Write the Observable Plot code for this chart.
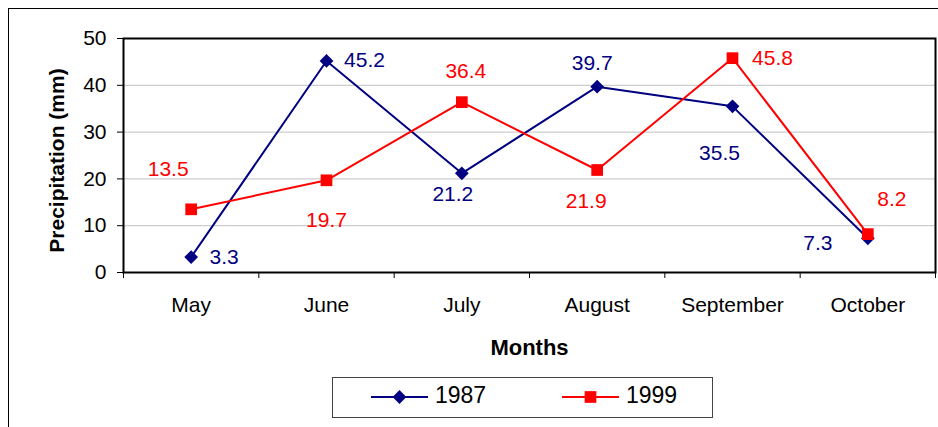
<!DOCTYPE html>
<html>
<head>
<meta charset="utf-8">
<script src="https://cdn.jsdelivr.net/npm/d3@7"></script>
<script src="https://cdn.jsdelivr.net/npm/@observablehq/plot@0.6"></script>
<style>
  html, body { margin: 0; padding: 0; background: #fff; }
  #wrap { position: relative; width: 938px; height: 427px; overflow: hidden; font-family: "Liberation Sans", Arial, sans-serif; }
  #outer { position: absolute; left: 8px; top: 8px; width: 1100px; height: 1100px; border: 1.5px solid #000; box-sizing: border-box; }
  #chart { position: absolute; left: 0; top: 0; }
  #legend { position: absolute; left: 332px; top: 377px; width: 381px; height: 41px; border: 1.5px solid #444; box-sizing: border-box; background: #fff; }
  #legend .item { position: absolute; top: 0; height: 38px; display: flex; align-items: center; }
  #legend span { font-size: 23px; color: #000; margin-left: 7px; position: relative; top: -2px; }
</style>
</head>
<body>
<div id="wrap">
  <div id="outer"></div>
  <div id="chart"></div>
  <div id="legend"></div>
</div>
<script>
const months = ["May", "June", "July", "August", "September", "October"];
const series = ["1987", "1999"];
const values1987 = [3.3, 45.2, 21.2, 39.7, 35.5, 7.3];
const values1999 = [13.5, 19.7, 36.4, 21.9, 45.8, 8.2];
const yTicks = [0, 10, 20, 30, 40, 50];

// styling
const colors = {"1987": "#000080", "1999": "#ff0000"};
const symbols = {"1987": "diamond2", "1999": "square"};
const radii = {"1987": 6.2, "1999": 6.6};
const labelOffsets = {
  "1987": [[33, 0], [38, -1], [-9, 21], [-5, -23], [-13, 47], [-50, 5]],
  "1999": [[-23, -40], [0, 40], [4, -31], [-11, 31], [40, 0], [24, -35]]
};

const rows = [];
months.forEach((m, i) => {
  rows.push({month: m, idx: i, series: "1987", value: values1987[i]});
  rows.push({month: m, idx: i, series: "1999", value: values1999[i]});
});
const xPos = d => d.idx + 0.5;

const marks = [
  Plot.gridY(yTicks.filter(t => t > 0 && t < 50), {stroke: "#c0c0c0", strokeOpacity: 1, strokeWidth: 1}),
  Plot.axisY({ticks: yTicks, tickSize: 6, tickPadding: 11, fontSize: 21, label: null, stroke: "#000"}),
  Plot.axisX({ticks: d3.range(0, months.length + 1), tickSize: 6, tickFormat: () => "", label: null, stroke: "#000"}),
  Plot.axisX({ticks: months.map((_, i) => i + 0.5), tickFormat: d => months[Math.floor(d)], tickSize: 0, tickPadding: 25, fontSize: 21, label: null}),
  Plot.frame({stroke: "#000", strokeWidth: 2}),
  Plot.text(["Precipitation (mm)"], {frameAnchor: "left", textAnchor: "middle", lineAnchor: "middle", dx: -66, dy: 5, rotate: -90, fontWeight: "bold", fontSize: 21}),
  Plot.text(["Months"], {frameAnchor: "bottom", textAnchor: "middle", lineAnchor: "middle", dy: 75, fontWeight: "bold", fontSize: 22})
];

for (const s of series) {
  const data = rows.filter(r => r.series === s);
  marks.push(Plot.line(data, {x: xPos, y: "value", stroke: colors[s], strokeWidth: 2}));
  marks.push(Plot.dot(data, {x: xPos, y: "value", symbol: () => symbols[s], r: radii[s], fill: colors[s], stroke: "none"}));
}
for (const s of series) {
  const data = rows.filter(r => r.series === s);
  data.forEach((d, i) => {
    const [dx, dy] = labelOffsets[s][i];
    marks.push(Plot.text([d], {x: xPos, y: "value", text: r => String(r.value), dx, dy, fill: colors[s], fontSize: 21}));
  });
}

const chart = Plot.plot({
  width: 938,
  height: 377,
  marginLeft: 123,
  marginRight: 3,
  marginTop: 38,
  marginBottom: 105,
  style: {fontFamily: "'Liberation Sans', Arial, sans-serif", background: "transparent", overflow: "visible"},
  x: {type: "linear", domain: [0, months.length], axis: null},
  y: {domain: [0, 50], axis: null},
  symbol: {type: "identity"},
  marks
});
document.getElementById("chart").appendChild(chart);

// legend
const legend = document.getElementById("legend");
const legendLayout = [{s: "1987", left: 38}, {s: "1999", left: 229}];
for (const {s, left} of legendLayout) {
  const item = document.createElement("div");
  item.className = "item";
  item.style.left = left + "px";
  const svg = d3.create("svg").attr("width", 57).attr("height", 20);
  svg.append("line").attr("x1", 0).attr("x2", 57).attr("y1", 10).attr("y2", 10).attr("stroke", colors[s]).attr("stroke-width", 2);
  const size = Math.PI * radii[s] * radii[s];
  const sym = s === "1987" ? d3.symbolDiamond2 : d3.symbolSquare;
  svg.append("path").attr("d", d3.symbol(sym, size)()).attr("transform", "translate(28.5,10)").attr("fill", colors[s]);
  item.appendChild(svg.node());
  const label = document.createElement("span");
  label.textContent = s;
  item.appendChild(label);
  legend.appendChild(item);
}
</script>
</body>
</html>
